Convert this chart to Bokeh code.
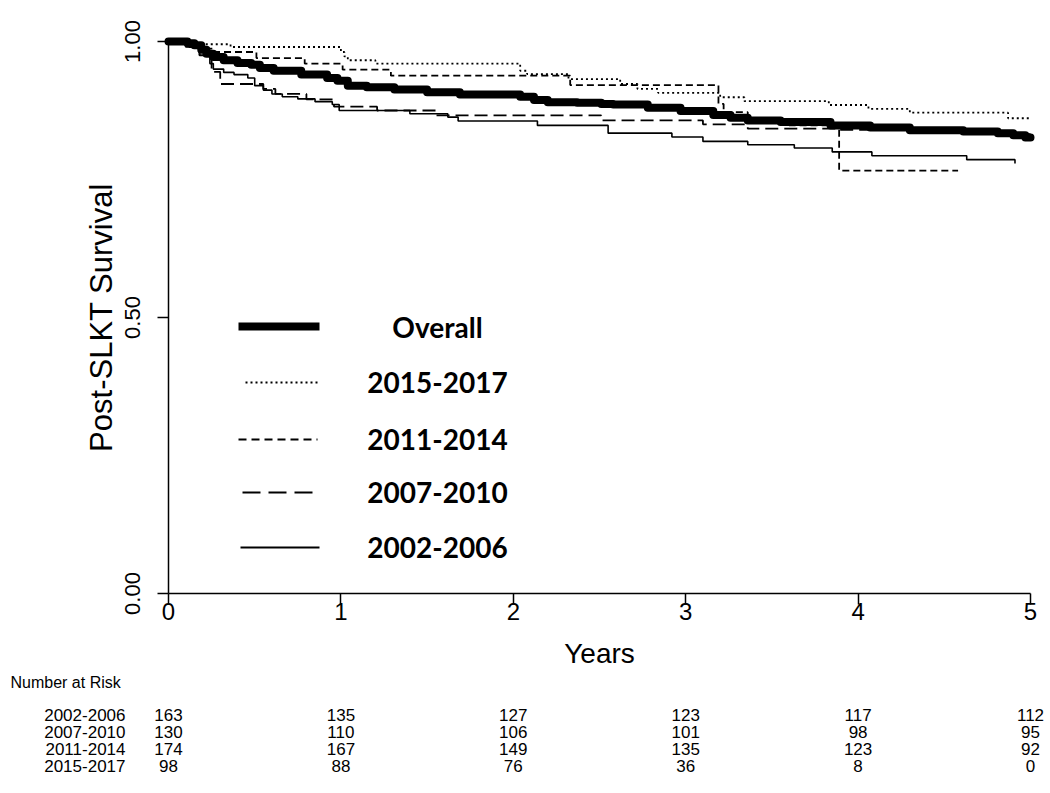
from bokeh.plotting import figure
from bokeh.models import Range1d, FixedTicker, NumeralTickFormatter, ColumnDataSource
from bokeh.embed import file_html
from bokeh.resources import INLINE
from bokeh.core.properties import value

# ---------------- data ----------------
overall_t = [0.0, 0.11, 0.15, 0.19, 0.22, 0.26, 0.32, 0.40, 0.48, 0.53, 0.61, 0.77, 0.92, 0.98,
             1.04, 1.15, 1.31, 1.50, 1.69, 2.04, 2.12, 2.20, 2.37, 2.51, 2.58, 2.78, 2.97, 3.16,
             3.26, 3.36, 3.55, 3.84, 4.07, 4.30, 4.61, 4.81, 4.90, 4.97]
overall_s = [1.0, 0.997, 0.993, 0.985, 0.978, 0.972, 0.966, 0.961, 0.958, 0.952, 0.947, 0.940,
             0.934, 0.929, 0.920, 0.917, 0.913, 0.908, 0.904, 0.900, 0.894, 0.890, 0.889, 0.887,
             0.886, 0.880, 0.874, 0.867, 0.862, 0.857, 0.854, 0.848, 0.844, 0.839, 0.837, 0.834,
             0.830, 0.826]
overall_end = 5.0

e2015_t = [0.0, 0.15, 0.36, 1.00, 1.02, 1.04, 1.20, 2.04, 2.08, 2.32, 2.62, 2.72, 2.84, 3.20,
           3.34, 3.83, 4.06, 4.30, 4.87]
e2015_s = [1.0, 0.995, 0.990, 0.981, 0.973, 0.966, 0.960, 0.947, 0.941, 0.932, 0.923, 0.914,
           0.907, 0.899, 0.892, 0.885, 0.878, 0.871, 0.861]
e2015_end = 5.0

e2011_t = [0.0, 0.12, 0.20, 0.26, 0.51, 0.79, 1.01, 1.29, 2.33, 3.19, 3.22, 3.36, 3.60, 3.89]
e2011_s = [1.0, 0.994, 0.987, 0.981, 0.970, 0.960, 0.949, 0.938, 0.921, 0.887, 0.872, 0.857,
           0.848, 0.766]
e2011_end = 4.58

e2007_t = [0.0, 0.12, 0.18, 0.25, 0.30, 0.55, 0.62, 0.80, 0.96, 1.21, 1.55, 2.51, 3.10, 3.36,
           3.89, 4.30, 4.80]
e2007_s = [1.0, 0.990, 0.975, 0.945, 0.923, 0.914, 0.905, 0.895, 0.882, 0.875, 0.866, 0.857,
           0.850, 0.842, 0.840, 0.837, 0.832]
e2007_end = 5.0

e2002_t = [0.0, 0.10, 0.18, 0.24, 0.26, 0.32, 0.38, 0.46, 0.50, 0.55, 0.60, 0.66, 0.75, 0.85,
           0.95, 0.99, 1.40, 1.62, 1.68, 2.14, 2.55, 2.92, 3.10, 3.36, 3.63, 3.85, 4.08, 4.63, 4.91]
e2002_s = [1.0, 0.990, 0.975, 0.960, 0.950, 0.944, 0.940, 0.934, 0.920, 0.912, 0.905, 0.900,
           0.896, 0.891, 0.886, 0.875, 0.869, 0.863, 0.856, 0.848, 0.834, 0.827, 0.819, 0.813,
           0.807, 0.800, 0.793, 0.786, 0.779]
e2002_end = 4.91

legend_labels = ["Overall", "2015-2017", "2011-2014", "2007-2010", "2002-2006"]

year_ticks = [0, 1, 2, 3, 4, 5]
surv_ticks = [0.0, 0.5, 1.0]

risk_title = "Number at Risk"
risk_groups = ["2002-2006", "2007-2010", "2011-2014", "2015-2017"]
risk_times = [0, 1, 2, 3, 4, 5]
risk_2002_2006 = [163, 135, 127, 123, 117, 112]
risk_2007_2010 = [130, 110, 106, 101, 98, 95]
risk_2011_2014 = [174, 167, 149, 135, 123, 92]
risk_2015_2017 = [98, 88, 76, 36, 8, 0]

# ---------------- layout constants (page pixels) ----------------
W, H = 1048, 791
PX_PER_YEAR = 172.4
PX_PER_UNIT = 552.0
X0 = 168              # page x of year 0
Y1 = 41               # page y of survival 1.0

def xd(px):           # page pixel -> years
    return (px - X0) / PX_PER_YEAR

def yd(py):           # page pixel -> survival
    return 1 - (py - Y1) / PX_PER_UNIT

AX_FONT = "Liberation Sans"

p = figure(output_backend="svg", toolbar_location=None,
           x_range=Range1d(xd(0), xd(W)), y_range=Range1d(yd(H), yd(0)),
           frame_width=W, frame_height=H,
           min_border_left=0, min_border_right=0, min_border_top=0, min_border_bottom=0,
           background_fill_color="white", border_fill_color="white")
p.outline_line_color = None
p.grid.visible = False

for ax in (p.xaxis, p.yaxis):
    ax.fixed_location = 0
    ax.axis_line_width = 1.5
    ax.axis_line_color = "black"
    ax.major_tick_line_width = 1.5
    ax.major_tick_line_color = "black"
    ax.major_tick_out = 11
    ax.major_tick_in = 0
    ax.minor_tick_out = 0
    ax.minor_tick_in = 0
    ax.major_label_text_font = AX_FONT
    ax.major_label_text_color = "black"
    ax.axis_label_text_font = AX_FONT
    ax.axis_label_text_font_style = "normal"
    ax.axis_label_text_color = "black"

p.xaxis.ticker = FixedTicker(ticks=year_ticks)
p.xaxis.bounds = (0, 5)
p.xaxis.major_label_text_font_size = "24px"
p.xaxis.major_label_standoff = -2
p.xaxis.axis_label = "Years"
p.xaxis.axis_label_text_font_size = "28px"
p.xaxis.axis_label_standoff = 15

p.yaxis.ticker = FixedTicker(ticks=surv_ticks)
p.yaxis.formatter = NumeralTickFormatter(format="0.00")
p.yaxis.bounds = (0, 1)
p.yaxis.major_label_orientation = "vertical"
p.yaxis.major_label_text_font_size = "22px"
p.yaxis.major_label_standoff = 18
p.yaxis.axis_label = "Post-SLKT Survival"
p.yaxis.axis_label_text_font_size = "31px"
p.yaxis.axis_label_standoff = 3

def steps(t, s, end):
    return list(t) + [end], list(s) + [s[-1]]

styles = [
    (e2002_t, e2002_s, e2002_end, dict(line_width=1.6)),
    (e2007_t, e2007_s, e2007_end, dict(line_width=1.8, line_dash="13 6")),
    (e2011_t, e2011_s, e2011_end, dict(line_width=1.8, line_dash="7 4")),
    (e2015_t, e2015_s, e2015_end, dict(line_width=1.8, line_dash="2 3")),
]
for t, s, end, kw in styles:
    x, y = steps(t, s, end)
    p.step(x, y, mode="after", line_color="black", **kw)

ox, oy = steps(overall_t, overall_s, overall_end)
p.step(ox, oy, mode="after", line_color="black", line_width=8, line_join="round", line_cap="round")

# ---------------- legend (drawn inside the plot) ----------------
leg_rows_py = [326, 382, 439, 492, 547]
leg_x0_px = [238, 245, 238, 242, 240]
leg_x1_px = [319, 317, 317, 313, 319]
leg_styles = [dict(line_width=8), dict(line_width=1.8, line_dash="2 3"),
              dict(line_width=2, line_dash="8 5"), dict(line_width=2, line_dash="18 8"),
              dict(line_width=2)]
for py, a, b, kw in zip(leg_rows_py, leg_x0_px, leg_x1_px, leg_styles):
    p.line([xd(a), xd(b)], [yd(py), yd(py)], line_color="black", line_cap="butt", **kw)
p.text(x=[xd(437)] * len(legend_labels), y=[yd(py) for py in leg_rows_py], text=legend_labels,
       text_align="center", text_baseline="middle", text_font=value("Lato"),
       text_font_style="bold", text_font_size="28px", text_color="black")

# ---------------- risk table (below the axis, same scales) ----------------
title_py = 682
row_py = [714, 731, 748, 765]
rows = [risk_2002_2006, risk_2007_2010, risk_2011_2014, risk_2015_2017]

xs, ys, txt = [], [], []
for py, vals in zip(row_py, rows):
    for tt, v in zip(risk_times, vals):
        xs.append(tt)
        ys.append(yd(py))
        txt.append(str(v))
p.text(x="x", y="y", text="t", source=ColumnDataSource(dict(x=xs, y=ys, t=txt)),
       text_align="center", text_baseline="middle", text_font=value(AX_FONT),
       text_font_size="17px", text_color="black")
p.text(x=[xd(125)] * len(risk_groups), y=[yd(py) for py in row_py], text=risk_groups,
       text_align="right", text_baseline="middle", text_font=value(AX_FONT),
       text_font_size="17px", text_color="black")
p.text(x=[xd(10)], y=[yd(title_py)], text=[risk_title],
       text_align="left", text_baseline="middle", text_font=value(AX_FONT),
       text_font_size="16px", text_color="black")

open("out.html", "w").write(file_html(p, INLINE))
